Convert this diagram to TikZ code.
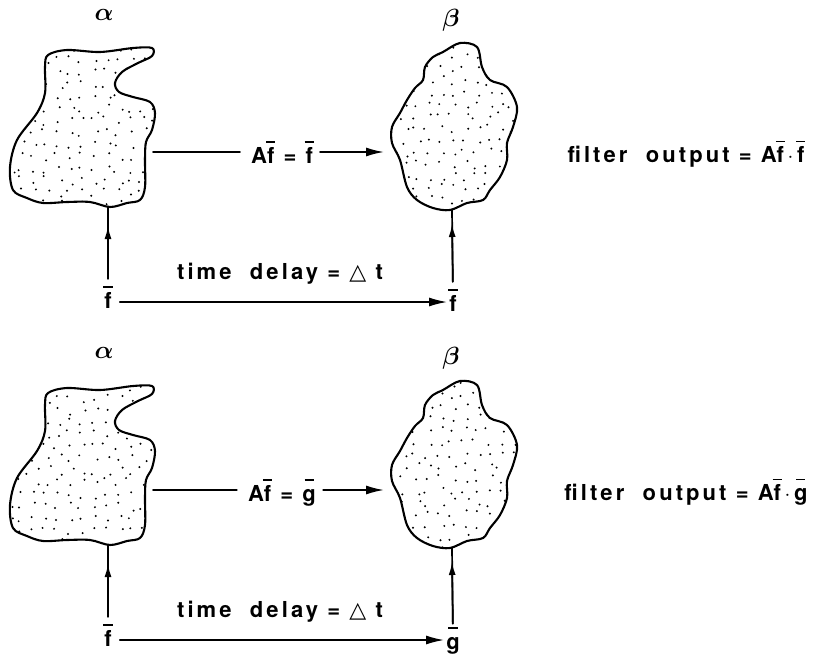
\documentclass[tikz,border=0pt]{standalone}
\usepackage{fontspec}
\setmainfont{TeX Gyre Heros}[LetterSpace=14]
\newfontfamily\symfont{DejaVu Sans}
\usetikzlibrary{arrows.meta}

% letter with a short heavy bar over it
\newcommand\ob[1]{\leavevmode\hbox{\ooalign{#1\cr\hidewidth\raisebox{0.93em}{\rule{0.42em}{1.8pt}}\hidewidth\cr}}}

% outline of the source region (alpha)
\newcommand\alphablob{plot[smooth cycle,tension=0.55] coordinates {
 (48,55) (67,50) (100,52) (133,48) (152,48) (152,56) (138,63) (122,72)
 (115,83) (119,92) (133,97) (150,102) (155,113) (152,130) (146,142)
 (145,160) (145,187) (140,200) (127,203) (110,207) (90,202) (67,202)
 (43,203) (27,198) (13,190) (10,167) (17,140) (37,113) (45,93) (45,67)}}

% outline of the receiving region (beta)
\newcommand\betablob{plot[smooth cycle,tension=0.55] coordinates {
 (433,57) (443,52) (460,43) (477,47) (482,67) (490,80) (507,87) (517,107)
 (513,127) (507,143) (507,160) (500,177) (490,190) (483,200) (467,203)
 (450,210) (433,208) (417,200) (407,187) (400,160) (392,143) (392,127)
 (400,113) (407,100) (415,88) (423,80) (425,67)}}

% stipple: jittered grid of dots starting at (#1,#2), #3 columns, #4 rows
\newcommand\stipple[4]{%
  \foreach \i in {0,...,#3} {\foreach \j in {0,...,#4} {
    \fill ({#1+\i*12+rnd*9},{#2+\j*12+rnd*9}) circle (1.1pt);}}}

% one filter panel: #1 prefix, #2 vertical offset, #3 received letter, #4 seed
\newcommand\filterpanel[4]{%
\begin{scope}[shift={(0,#2)}]
  \pgfmathsetseed{#4}
  \begin{scope}
    \clip \alphablob;
    \stipple{6}{44}{12}{14}
  \end{scope}
  \draw[outline] \alphablob;
  \begin{scope}
    \clip \betablob;
    \stipple{388}{40}{11}{14}
  \end{scope}
  \draw[outline] \betablob;

  \node[greek] (#1alpha) at (104,15) {$\alpha$};
  \node[greek] (#1beta) at (451,20) {$\beta$};

  \coordinate (#1ar) at (153,152);
  \coordinate (#1bl) at (384,152);
  \node[lbl] (#1eq) at (282,155) {A\ob{f} = \ob{#3}};
  \draw[conn,shorten >=10pt] (#1ar) -- (#1ar -| #1eq.west);
  \draw[harr,shorten <=6pt] (#1eq.east |- #1ar) -- (#1bl);

  \node[lbl,anchor=base] (#1fin) at (108,308) {\ob{f}};
  \node[lbl,anchor=base] (#1fout) at (453,311) {\ob{#3}};
  \coordinate (#1ab) at (108,207);
  \coordinate (#1ah) at (108,226);
  \coordinate (#1bb) at (452,210);
  \coordinate (#1bh) at (452,224);
  \draw[conn,shorten <=12pt] (#1fin.north) -- (#1ab);
  \draw[varr,shorten <=12pt] (#1fin.north) -- (#1ah);
  \draw[conn,shorten <=12pt] (#1fout.north) -- (#1bb);
  \draw[varr,shorten <=12pt] (#1fout.north) -- (#1bh);
  \draw[harr,shorten <=7pt,shorten >=1pt] ([yshift=6pt]#1fin.base east) -- ([yshift=9pt]#1fout.base west);
  \node[lbl] (#1delay) at (280,274) {time\ \ delay = {\symfont △} t};

  \node[lbl] (#1out) at (686,157) {filter\ \ output = A\ob{f}\,$\cdot$\,\ob{#3}};
\end{scope}}

\begin{document}
\begin{tikzpicture}[x=1pt,y=-1pt,line cap=round,line join=round,
  lbl/.style={font=\fontsize{22}{25}\selectfont\bfseries,inner sep=1pt},
  greek/.style={font=\fontsize{25}{28}\selectfont\boldmath,inner sep=0pt},
  outline/.style={line width=2.1pt},
  conn/.style={line width=1.7pt},
  harr/.style={conn,-{Latex[length=18pt,width=9pt]}},
  varr/.style={conn,-{Latex[length=13pt,width=7pt]}}]
\useasboundingbox (0,0) rectangle (821,654);
\filterpanel{t}{0}{f}{7}
\filterpanel{b}{338}{g}{19}
\end{tikzpicture}
\end{document}
